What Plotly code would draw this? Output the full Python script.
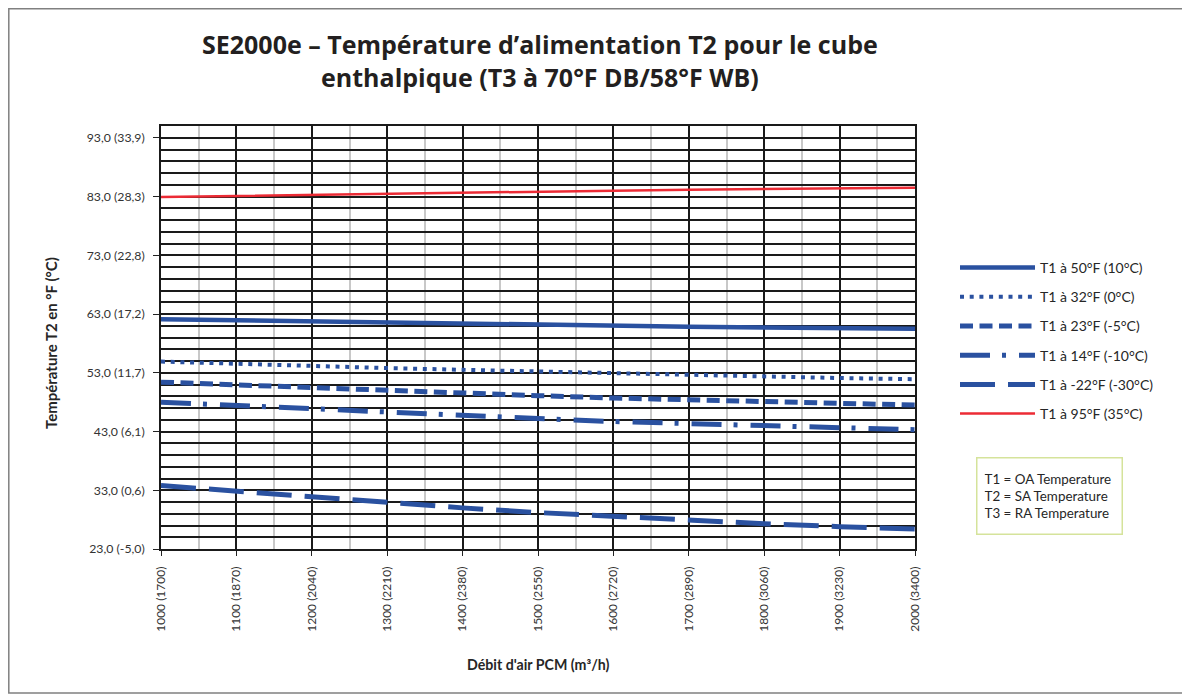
import plotly.graph_objects as go

# ---- data ----
airflow = [1000, 1100, 1200, 1300, 1400, 1500, 1600, 1700, 1800, 1900, 2000]
x_tick_labels = ["1000 (1700)", "1100 (1870)", "1200 (2040)", "1300 (2210)", "1400 (2380)",
                 "1500 (2550)", "1600 (2720)", "1700 (2890)", "1800 (3060)", "1900 (3230)", "2000 (3400)"]
y_tick_vals = [23, 33, 43, 53, 63, 73, 83, 93]
y_tick_labels = ["23,0 (-5,0)", "33,0 (0,6)", "43,0 (6,1)", "53,0 (11,7)",
                 "63,0 (17,2)", "73,0 (22,8)", "83,0 (28,3)", "93,0 (33,9)"]

t1_50F = [62.1, 61.9, 61.7, 61.5, 61.3, 61.15, 61.0, 60.85, 60.7, 60.6, 60.5]
t1_32F = [54.9, 54.5, 54.1, 53.8, 53.5, 53.2, 52.9, 52.6, 52.4, 52.1, 51.9]
t1_23F = [51.4, 50.9, 50.4, 49.9, 49.5, 49.1, 48.7, 48.4, 48.0, 47.8, 47.5]
t1_14F = [48.0, 47.4, 46.8, 46.2, 45.7, 45.2, 44.7, 44.3, 43.9, 43.6, 43.3]
t1_m22F = [33.8, 32.8, 31.8, 30.9, 30.0, 29.2, 28.5, 27.9, 27.3, 26.8, 26.4]
t1_95F = [82.9, 83.1, 83.3, 83.5, 83.7, 83.85, 84.0, 84.15, 84.3, 84.4, 84.5]

series_names = ["T1 à 50°F (10°C)", "T1 à 32°F (0°C)", "T1 à 23°F (-5°C)",
                "T1 à 14°F (-10°C)", "T1 à -22°F (-30°C)", "T1 à 95°F (35°C)"]

BLUE = "#2A51A0"
RED = "#EC2B35"
FONT = "Lato"

styles = [
    dict(color=BLUE, width=4.5, dash="solid"),
    dict(color=BLUE, width=4, dash="4px,5.7px"),
    dict(color=BLUE, width=5, dash="13px,6.5px"),
    dict(color=BLUE, width=5, dash="30px,12px,4px,13px"),
    dict(color=BLUE, width=5, dash="35px,13px"),
    dict(color=RED, width=2.5, dash="solid"),
]
values = [t1_50F, t1_32F, t1_23F, t1_14F, t1_m22F, t1_95F]

fig = go.Figure()
for i, (name, vals, st) in enumerate(zip(series_names, values, styles)):
    fig.add_trace(go.Scatter(x=airflow, y=vals, mode="lines", name=name,
                             line=st, legendgroup=f"g{i}"))

# page offset of the figure (body margin)
OFF = 8
W, H = 1190, 700
# plot area in page pixels: x 161..915, y 126..549
L, R_EDGE, T, B_EDGE = 161 - OFF, 915 - OFF, 126 - OFF, 549 - OFF
PW, PH = R_EDGE - L, B_EDGE - T

def px_x(p):
    return (p - OFF - L) / PW

def px_y(p):
    return (B_EDGE - (p - OFF)) / PH

fig.update_layout(
    width=W, height=H,
    margin=dict(l=L, r=W - R_EDGE, t=T, b=H - B_EDGE),
    paper_bgcolor="white", plot_bgcolor="white",
    font=dict(family=FONT, color="#333333"),
    showlegend=True,
    legend=dict(x=px_x(955), y=px_y(252), xanchor="left", yanchor="top",
                font=dict(family=FONT, size=14, color="#262626"),
                itemwidth=75, traceorder="grouped", tracegroupgap=8,
                bgcolor="rgba(0,0,0,0)"),
    xaxis=dict(range=[1000, 2000], tickmode="array", tickvals=airflow, ticktext=x_tick_labels,
               tickangle=-90, tickfont=dict(family=FONT, size=12, color="#333333"),
               ticks="outside", ticklen=5, tickcolor="#222222", ticklabelstandoff=6,
               showgrid=True, gridcolor="#1a1a1a", gridwidth=1.6,
               minor=dict(tickmode="linear", tick0=1000, dtick=50, showgrid=True,
                          gridcolor="#c8c8c8", gridwidth=1.5, ticks=""),
               showline=True, linecolor="#1a1a1a", linewidth=1.6, mirror=True,
               zeroline=False, fixedrange=True),
    yaxis=dict(range=[23, 95], tickmode="array", tickvals=y_tick_vals, ticktext=y_tick_labels,
               tickfont=dict(family=FONT, size=12.3, color="#333333"),
               ticks="outside", ticklen=6, tickcolor="#222222", ticklabelstandoff=6,
               showgrid=True, gridcolor="#1a1a1a", gridwidth=1.6,
               minor=dict(tickmode="linear", tick0=23, dtick=2, showgrid=True,
                          gridcolor="#1a1a1a", gridwidth=1.6, ticks=""),
               showline=True, linecolor="#1a1a1a", linewidth=1.6, mirror=True,
               zeroline=False, fixedrange=True),
)

# title
fig.add_annotation(xref="paper", yref="paper", x=px_x(540), y=px_y(61),
                   xanchor="center", yanchor="middle", showarrow=False,
                   text="<b>SE2000e – Température d’alimentation T2 pour le cube<br>enthalpique (T3 à 70°F DB/58°F WB)</b>",
                   font=dict(family="Open Sans", size=25, color="#231F20"))
# axis titles
fig.add_annotation(xref="paper", yref="paper", x=px_x(51), y=px_y(343),
                   xanchor="center", yanchor="middle", showarrow=False, textangle=-90,
                   text="<b>Température T2 en °F (°C)</b>",
                   font=dict(family=FONT, size=15, color="#262626"))
fig.add_annotation(xref="paper", yref="paper", x=px_x(538), y=px_y(664),
                   xanchor="center", yanchor="middle", showarrow=False,
                   text="<b>Débit d'air PCM (m³/h)</b>",
                   font=dict(family=FONT, size=14.2, color="#262626"))
# note box
fig.add_annotation(xref="paper", yref="paper", x=px_x(976), y=px_y(457),
                   xanchor="left", yanchor="top", showarrow=False, align="left", valign="middle",
                   text="T1 = OA Temperature<br>T2 = SA Temperature<br>T3 = RA Temperature",
                   font=dict(family=FONT, size=13.4, color="#262626"),
                   width=130, height=61, borderpad=7, bordercolor="#D5E39B", borderwidth=1.5,
                   bgcolor="white")
# outer frame
fig.add_shape(type="rect", xref="paper", yref="paper",
              x0=px_x(8.8), x1=px_x(1183), y0=px_y(693), y1=px_y(8.8),
              line=dict(color="#808080", width=1.5), layer="below")

fig.write_html("out.html")
